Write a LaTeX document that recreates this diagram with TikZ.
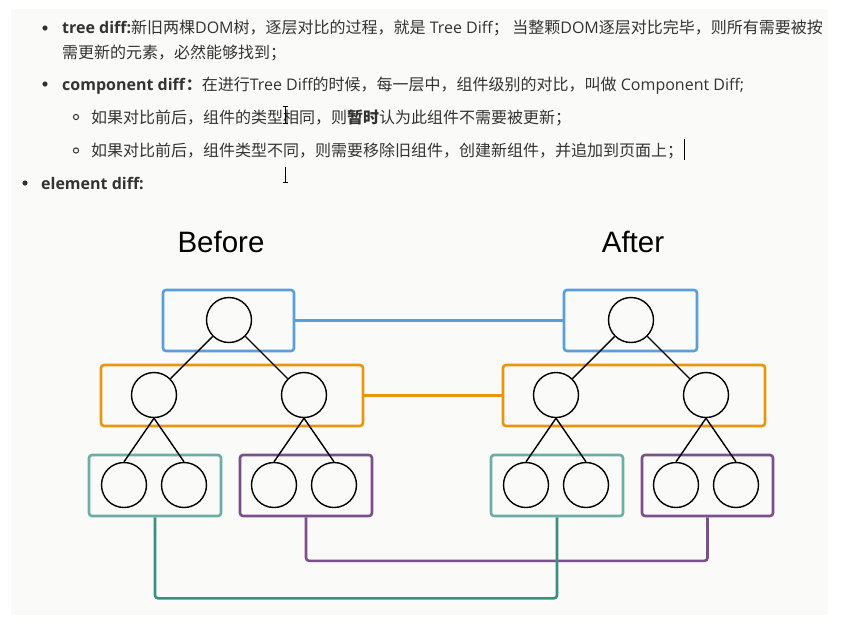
\documentclass[tikz,border=0pt]{standalone}
\usepackage{fontspec}
\setmainfont{Open Sans}
\newfontfamily\cjk{Noto Sans CJK SC}
\newfontfamily\labelfont{Liberation Sans}
\definecolor{txt}{HTML}{333333}
\definecolor{panel}{RGB}{250,250,249}
\definecolor{cblue}{HTML}{5A9FDB}
\definecolor{corange}{HTML}{E8960E}
\definecolor{cteal}{HTML}{6AAFA3}
\definecolor{cteald}{HTML}{3B8F7D}
\definecolor{cpurple}{HTML}{7A4F8C}
\tikzset{
  grp/.style={draw=#1, line width=2.6pt, rounded corners=3pt, inner sep=0pt},
  nd/.style={circle, draw=black, line width=1.4pt, minimum size=45pt, inner sep=0pt},
  edge/.style={draw=black, line width=1.4pt},
  link/.style={draw=#1, line width=2.6pt, rounded corners=3pt},
  line/.style={anchor=base west, inner sep=0pt, text=txt, font=\fontsize{16}{16}\selectfont},
  ttl/.style={anchor=base, inner sep=0pt, text=black, font=\labelfont\fontsize{29.5}{30}\selectfont},
}
\begin{document}
\begin{tikzpicture}[x=1pt,y=-1pt]
\useasboundingbox (0,0) rectangle (846,625);
\fill[panel] (11,9) rectangle (828,615);

% text
\fill[txt] (45,28) circle (2.6);
\node[line] (t1) at (62,33) {\textbf{tree diff:}{\cjk 新旧两棵}DOM{\cjk 树，逐层对比的过程，就是} Tree Diff{\cjk ；\ 当整颗}DOM{\cjk 逐层对比完毕，则所有需要被按}};
\node[line] (t2) at (62,58) {{\cjk 需更新的元素，必然能够找到；}};
\fill[txt] (45,84) circle (2.6);
\node[line] (t3) at (62,90) {\textbf{component diff}{\cjk\bfseries ：}{\cjk 在进行}Tree Diff{\cjk 的时候，每一层中，组件级别的对比，叫做} Component Diff;};
\draw[txt, line width=1pt] (76,117) circle (2.6);
\node[line] (t4) at (91,123.5) {{\cjk 如果对比前后，组件的类型相同，则{\bfseries 暂时}认为此组件不需要被更新；}};
\draw[txt, line width=1pt] (76,150.5) circle (2.6);
\node[line] (t5) at (91,156.5) {{\cjk 如果对比前后，组件类型不同，则需要移除旧组件，创建新组件，并追加到页面上；}};
\fill[txt] (25,183) circle (2.6);
\node[line] (t6) at (41,189) {\textbf{element diff:}};
% caret and cursors
\draw[black, line width=0.9pt] (684,139) -- (684,160);
\draw[black, line width=0.8pt] (285,106) -- (285,123) (282.5,106) -- (287.5,106) (282.5,123) -- (287.5,123);
\draw[black, line width=0.8pt] (285,167) -- (285,182) (282.5,182) -- (287.5,182);

% titles
\node[ttl] (before) at (221,252.5) {Before};
\node[ttl] (after) at (633,252.5) {After};

% left tree groups
\node[grp=cblue, minimum width=131pt, minimum height=61pt] (bL) at (228.5,320.5) {};
\node[grp=corange, minimum width=262pt, minimum height=61pt] (oL) at (232,395.5) {};
\node[grp=cteal, minimum width=132pt, minimum height=61pt] (tL) at (155,485.5) {};
\node[grp=cpurple, minimum width=132pt, minimum height=61pt] (pL) at (306,485.5) {};
% right tree groups
\node[grp=cblue, minimum width=133pt, minimum height=61pt] (bR) at (630.5,320.5) {};
\node[grp=corange, minimum width=262pt, minimum height=61pt] (oR) at (634,395.5) {};
\node[grp=cteal, minimum width=132pt, minimum height=61pt] (tR) at (557,485.5) {};
\node[grp=cpurple, minimum width=131pt, minimum height=61pt] (pR) at (707.5,485.5) {};

% left tree nodes
\node[nd] (rL) at (229,320) {};
\node[nd] (aL) at (154,395) {};
\node[nd] (cL) at (304,395) {};
\node[nd] (l1L) at (124,485) {};
\node[nd] (l2L) at (184,485) {};
\node[nd] (l3L) at (274,485) {};
\node[nd] (l4L) at (334,485) {};
% right tree nodes
\node[nd] (rR) at (631,320) {};
\node[nd] (aR) at (556,395) {};
\node[nd] (cR) at (706,395) {};
\node[nd] (l1R) at (526,485) {};
\node[nd] (l2R) at (586,485) {};
\node[nd] (l3R) at (676,485) {};
\node[nd] (l4R) at (736,485) {};

% tree edges
\draw[edge] (rL) -- (aL);
\draw[edge] (rL) -- (cL);
\draw[edge] (aL.south) -- (l1L.north);
\draw[edge] (aL.south) -- (l2L.north);
\draw[edge] (cL.south) -- (l3L.north);
\draw[edge] (cL.south) -- (l4L.north);
\draw[edge] (rR) -- (aR);
\draw[edge] (rR) -- (cR);
\draw[edge] (aR.south) -- (l1R.north);
\draw[edge] (aR.south) -- (l2R.north);
\draw[edge] (cR.south) -- (l3R.north);
\draw[edge] (cR.south) -- (l4R.north);

% links between trees
\draw[link=cblue] (bL.east) -- (bR.west);
\draw[link=corange] (oL.east) -- (oR.west);
\draw[link=cpurple] (pL.south) -- ++(0,43.5) -| (pR.south);
\draw[link=cteald] (tL.south) -- ++(0,81) -| (tR.south);
\end{tikzpicture}
\end{document}
